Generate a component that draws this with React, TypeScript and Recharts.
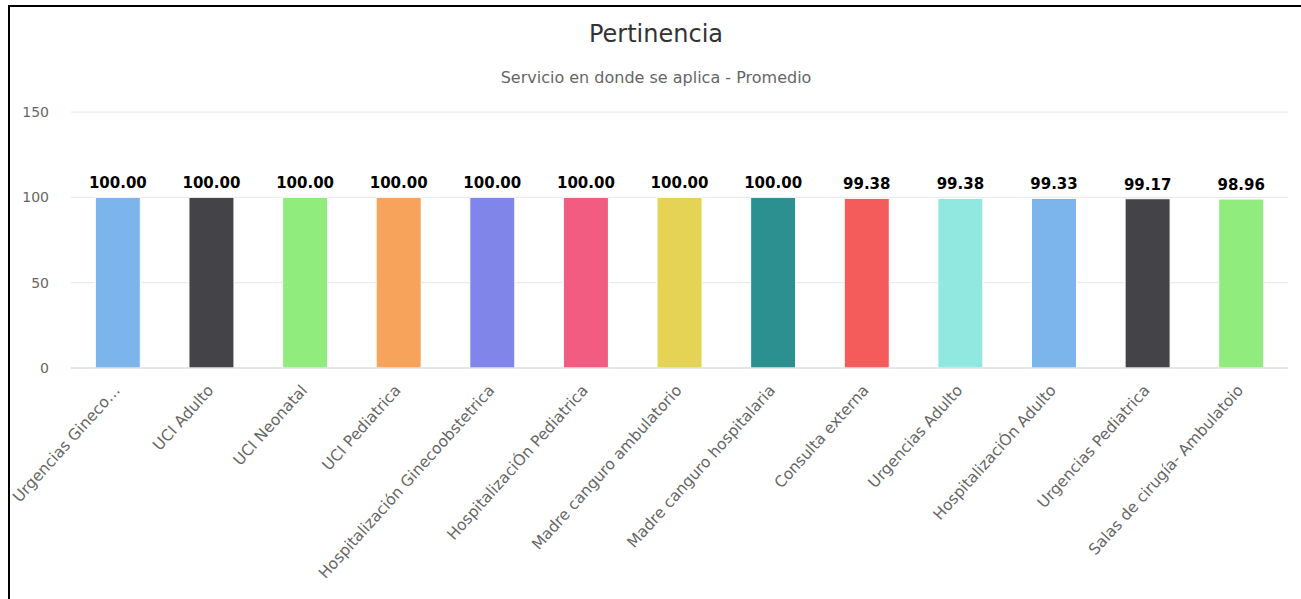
import React from "react";
import { BarChart, Bar, XAxis, YAxis, CartesianGrid, Cell, LabelList } from "recharts";

const categories = [
  "Urgencias Gineco…",
  "UCI Adulto",
  "UCI Neonatal",
  "UCI Pediatrica",
  "Hospitalización Ginecoobstetrica",
  "HospitalizaciÓn Pediatrica",
  "Madre canguro ambulatorio",
  "Madre canguro hospitalaria",
  "Consulta externa",
  "Urgencias Adulto",
  "HospitalizaciÓn Adulto",
  "Urgencias Pediatrica",
  "Salas de cirugía- Ambulatoio",
];

const values = [100, 100, 100, 100, 100, 100, 100, 100, 99.38, 99.38, 99.33, 99.17, 98.96];

const colors = [
  "#7cb5ec", "#434348", "#90ed7d", "#f7a35c", "#8085e9", "#f15c80", "#e4d354",
  "#2b908f", "#f45b5b", "#91e8e1", "#7cb5ec", "#434348", "#90ed7d",
];

const yTicks = [0, 50, 100, 150];

const title = "Pertinencia";
const subtitle = "Servicio en donde se aplica - Promedio";

const data = categories.map((name, i) => ({ name, value: values[i] }));

const FONT = "'DejaVu Sans', sans-serif";

const XTick = (props: any) => {
  const { x, y, payload } = props;
  const px = x + 3;
  const py = y + 23;
  return (
    <text
      x={px}
      y={py}
      transform={`rotate(-48, ${px}, ${py})`}
      textAnchor="end"
      fill="#666666"
      fontSize={15.5}
      fontFamily={FONT}
    >
      {payload.value}
    </text>
  );
};

export default function App() {
  return (
    <div
      style={{
        position: "fixed",
        left: 8,
        top: 5,
        width: 1293,
        height: 594,
        borderLeft: "2px solid #000",
        borderTop: "2px solid #000",
        background: "#fff",
        overflow: "hidden",
      }}
    >
      <style>{`html,body{overflow:hidden;}`}</style>
      <BarChart
        width={1291}
        height={592}
        data={data}
        margin={{ top: 105, right: 13, bottom: 0, left: 0 }}
        barCategoryGap="26%"
      >
        <CartesianGrid horizontal={true} vertical={false} stroke="#e6e6e6" />
        <XAxis
          dataKey="name"
          interval={0}
          height={231}
          tickLine={false}
          tickSize={0}
          tickMargin={0}
          axisLine={{ stroke: "#ccd6eb" }}
          tick={<XTick />}
        />
        <YAxis
          width={61}
          domain={[0, 150]}
          ticks={yTicks}
          axisLine={false}
          tickLine={false}
          tickSize={0}
          tickMargin={22}
          tick={{ fill: "#666666", fontSize: 14, fontFamily: FONT }}
        />
        <Bar dataKey="value" isAnimationActive={false} stroke="#ffffff" strokeWidth={1}>
          {data.map((d, i) => (
            <Cell key={d.name} fill={colors[i]} />
          ))}
          <LabelList
            dataKey="value"
            position="top"
            offset={9}
            formatter={(v: any) => Number(v).toFixed(2)}
            style={{ fontSize: 15, fontWeight: "bold", fill: "#000000", fontFamily: FONT }}
          />
        </Bar>
      </BarChart>
      <svg
        width={1291}
        height={100}
        style={{ position: "absolute", left: 0, top: 0, pointerEvents: "none" }}
      >
        <text x={646} y={35} textAnchor="middle" fontSize={24} fill="#333333" fontFamily={FONT}>
          {title}
        </text>
        <text x={646} y={76} textAnchor="middle" fontSize={16} fill="#666666" fontFamily={FONT}>
          {subtitle}
        </text>
      </svg>
    </div>
  );
}
